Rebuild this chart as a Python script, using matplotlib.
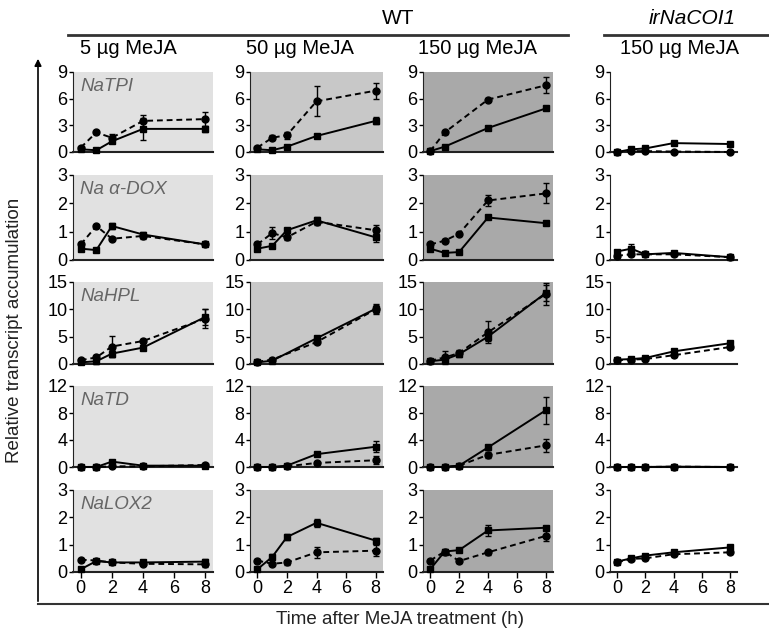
import matplotlib.pyplot as plt
import numpy as np

plt.rcParams['font.family'] = ['Liberation Sans', 'DejaVu Sans']

# Data
times = [0, 1, 2, 4, 8]
col_titles = ['5 µg MeJA', '50 µg MeJA', '150 µg MeJA', '150 µg MeJA']
genes = ['NaTPI', 'Na α-DOX', 'NaHPL', 'NaTD', 'NaLOX2']
y_max = [9, 3, 15, 12, 3]
y_ticks = [[0, 3, 6, 9], [0, 1, 2, 3], [0, 5, 10, 15], [0, 4, 8, 12], [0, 1, 2, 3]]

# each gene: one list per column (5 µg, 50 µg, 150 µg WT, 150 µg irNaCOI1); None = no point
tpi_solid = [[0.3, 0.2, 1.2, 2.6, 2.6], [0.3, 0.2, 0.6, 1.8, 3.5],
             [0.1, 0.6, None, 2.7, 4.9], [0.0, 0.3, 0.4, 1.0, 0.9]]
tpi_solid_err = [[0.1, 0.1, 0.2, 1.2, 0.3], [0.1, 0.1, 0.1, 0.2, 0.4],
                 [0.05, 0.1, 0, 0.2, 0.2], [0.05, 0.1, 0.1, 0.2, 0.2]]
tpi_dashed = [[0.5, 2.2, 1.6, 3.5, 3.7], [0.5, 1.6, 1.9, 5.7, 6.9],
              [0.1, 2.2, None, 5.9, 7.5], [0.0, 0.1, 0.1, 0.05, 0.0]]
tpi_dashed_err = [[0.1, 0.2, 0.4, 0.7, 0.8], [0.1, 0.3, 0.4, 1.7, 0.9],
                  [0.05, 0.2, 0, 0.2, 0.9], [0.0, 0.05, 0.05, 0.05, 0.0]]

dox_solid = [[0.4, 0.35, 1.2, 0.9, 0.55], [0.4, 0.5, 1.05, 1.4, 0.8],
             [0.4, 0.25, 0.28, 1.5, 1.3], [0.3, 0.4, 0.2, 0.25, 0.1]]
dox_solid_err = [[0.05, 0.05, 0.1, 0.1, 0.05], [0.05, 0.05, 0.08, 0.1, 0.15],
                 [0.05, 0.03, 0.03, 0.05, 0.05], [0.05, 0.15, 0.05, 0.05, 0.03]]
dox_dashed = [[0.55, 1.2, 0.75, 0.85, 0.55], [0.55, 0.95, 0.8, 1.35, 1.05],
              [0.55, 0.68, 0.93, 2.1, 2.35], [0.15, 0.2, 0.2, 0.2, 0.1]]
dox_dashed_err = [[0.05, 0.05, 0.05, 0.1, 0.05], [0.08, 0.2, 0.08, 0.1, 0.2],
                  [0.05, 0.05, 0.05, 0.2, 0.35], [0.05, 0.05, 0.05, 0.05, 0.03]]

hpl_solid = [[0.3, 0.5, 1.9, 3.0, 8.6], [0.3, 0.6, None, 4.7, 10.1],
             [0.5, 0.8, 1.8, 5.0, 13.0], [0.8, 0.9, 1.1, 2.3, 3.8]]
hpl_solid_err = [[0.3, 0.5, 0.6, 0.5, 1.5], [0.2, 0.3, 0, 0.5, 0.8],
                 [0.3, 0.4, 0.5, 0.8, 1.5], [0.2, 0.2, 0.2, 0.3, 0.3]]
hpl_dashed = [[0.7, 1.2, 3.2, 4.2, 8.3], [0.4, 0.8, None, 4.0, 10.0],
              [0.6, 1.2, 2.0, 5.8, 12.8], [0.7, 0.8, 0.9, 1.6, 3.1]]
hpl_dashed_err = [[0.3, 0.4, 2.0, 0.4, 1.8], [0.2, 0.3, 0, 0.4, 0.8],
                  [0.3, 1.2, 0.5, 2.0, 2.0], [0.2, 0.2, 0.2, 0.3, 0.3]]

td_solid = [[0.0, 0.0, 0.8, 0.2, 0.2], [0.0, 0.0, 0.2, 1.9, 3.0],
            [0.0, 0.0, 0.2, 2.9, 8.4], [0.0, 0.0, 0.0, 0.05, 0.0]]
td_solid_err = [[0.05, 0.05, 0.3, 0.1, 0.2], [0.05, 0.05, 0.1, 0.2, 0.8],
                [0.05, 0.05, 0.1, 0.4, 2.0], [0.0, 0.0, 0.0, 0.05, 0.0]]
td_dashed = [[0.0, 0.0, 0.1, 0.1, 0.3], [0.0, 0.0, 0.1, 0.6, 1.0],
             [0.0, 0.0, 0.2, 1.8, 3.2], [0.0, 0.0, 0.0, 0.05, 0.0]]
td_dashed_err = [[0.05, 0.05, 0.1, 0.1, 0.2], [0.05, 0.05, 0.1, 0.2, 0.6],
                 [0.05, 0.05, 0.1, 0.4, 1.0], [0.0, 0.0, 0.0, 0.05, 0.0]]

lox_solid = [[0.1, 0.4, 0.35, 0.35, 0.38], [0.1, 0.55, 1.28, 1.8, 1.15],
             [0.1, 0.75, 0.8, 1.52, 1.62], [0.38, 0.5, 0.6, 0.72, 0.9]]
lox_solid_err = [[0.05, 0.08, 0.05, 0.08, 0.1], [0.05, 0.1, 0.1, 0.15, 0.1],
                 [0.05, 0.08, 0.05, 0.2, 0.08], [0.05, 0.05, 0.05, 0.05, 0.06]]
lox_dashed = [[0.45, 0.42, 0.35, 0.3, 0.28], [0.42, 0.3, 0.35, 0.72, 0.78],
              [0.42, 0.75, 0.4, 0.72, 1.32], [0.35, 0.48, 0.5, 0.65, 0.72]]
lox_dashed_err = [[0.03, 0.05, 0.05, 0.05, 0.08], [0.05, 0.05, 0.08, 0.2, 0.2],
                  [0.05, 0.05, 0.08, 0.08, 0.2], [0.05, 0.05, 0.05, 0.05, 0.05]]

solid = [tpi_solid, dox_solid, hpl_solid, td_solid, lox_solid]
solid_err = [tpi_solid_err, dox_solid_err, hpl_solid_err, td_solid_err, lox_solid_err]
dashed = [tpi_dashed, dox_dashed, hpl_dashed, td_dashed, lox_dashed]
dashed_err = [tpi_dashed_err, dox_dashed_err, hpl_dashed_err, td_dashed_err, lox_dashed_err]

face_colors = ['#e1e1e1', '#c8c8c8', '#a9a9a9', 'white']

# layout in pixels
W, H = 769, 632
col_left = [73, 250, 423, 610]
col_right = [213, 383, 553, 737]
row_top = [72, 175, 282, 386, 490]
row_bottom = [152, 260, 364, 467, 572]

fig = plt.figure(figsize=(W / 100, H / 100), dpi=100)


def draw_series(ax, values, errors, style, marker):
    v = np.array([np.nan if x is None else x for x in values], dtype=float)
    e = np.array(errors, dtype=float)
    t = np.array(times, dtype=float)
    ok = ~np.isnan(v)
    ax.errorbar(t[ok], v[ok], yerr=e[ok], color='black', linestyle=style, marker=marker,
                markersize=5, linewidth=1.4, elinewidth=1, capsize=2, clip_on=False,
                dashes=(3, 2) if style == '--' else (None, None), zorder=3)


for r in range(5):
    for c in range(4):
        rect = [col_left[c] / W, 1 - row_bottom[r] / H,
                (col_right[c] - col_left[c]) / W, (row_bottom[r] - row_top[r]) / H]
        ax = fig.add_axes(rect, facecolor=face_colors[c])
        draw_series(ax, dashed[r][c], dashed_err[r][c], '--', 'o')
        draw_series(ax, solid[r][c], solid_err[r][c], '-', 's')
        ax.set_xlim(-0.5, 8.5)
        ax.set_ylim(0, y_max[r])
        ax.set_yticks(y_ticks[r])
        ax.spines['top'].set_visible(False)
        ax.spines['right'].set_visible(False)
        ax.spines['left'].set_color('#222222')
        ax.spines['bottom'].set_color('#222222')
        ax.spines['bottom'].set_linewidth(1.5)
        ax.tick_params(axis='y', length=3, width=1, labelsize=13, pad=1)
        if r == 4:
            ax.set_xticks([0, 2, 4, 6, 8])
            ax.tick_params(axis='x', length=4, width=1, labelsize=13, pad=2)
        else:
            ax.set_xticks([])
        if c == 0:
            ax.text(0.05, 0.93, genes[r], transform=ax.transAxes, ha='left', va='top',
                    fontsize=13.5, style='italic', color='#666666')

# overlay for headers, axis arrow and labels
ov = fig.add_axes([0, 0, 1, 1], facecolor='none')
ov.set_xlim(0, W)
ov.set_ylim(H, 0)
ov.axis('off')

ov.text(398, 19, 'WT', ha='center', va='center', fontsize=15)
ov.plot([68, 568], [35, 35], color='#333333', lw=2)
ov.text(692, 19, 'irNaCOI1', ha='center', va='center', fontsize=15, style='italic')
ov.plot([604, 769], [35, 35], color='#333333', lw=2)
for x, title in zip([128, 300, 478, 680], col_titles):
    ov.text(x, 49, title, ha='center', va='center', fontsize=14.5)

ov.annotate('', xy=(38, 56), xytext=(38, 604),
            arrowprops=dict(arrowstyle='-|>', color='black', lw=1.2, mutation_scale=10))
ov.plot([38, 769], [604, 604], color='#333333', lw=1.5)
ov.text(15, 330, 'Relative transcript accumulation', rotation=90, ha='center', va='center',
        fontsize=13.5, color='#222222')
ov.text(400, 619, 'Time after MeJA treatment (h)', ha='center', va='center', fontsize=13.5,
        color='#222222')

plt.savefig('out.png', dpi=100)
